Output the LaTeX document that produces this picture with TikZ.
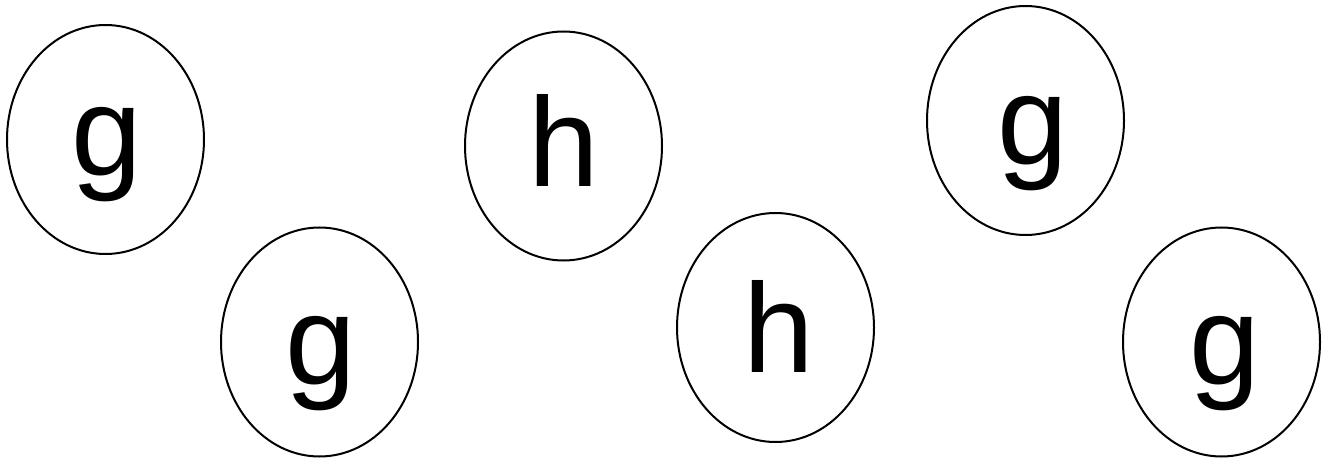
\documentclass[tikz,border=0pt]{standalone}
\usepackage{fontspec}
\setmainfont{Liberation Sans}
\usetikzlibrary{shapes.geometric}
\begin{document}
\begin{tikzpicture}[x=1pt,y=1pt,
  oval/.style={draw, line width=2pt, ellipse, inner sep=0pt,
    minimum width=197pt, minimum height=229pt},
  letter/.style={anchor=base, inner sep=0pt, font=\fontsize{127}{127}\selectfont}]
\useasboundingbox (0,0) rectangle (1327,461);
\node[oval] (e1) at (105.5,321.5) {};
\node[oval] (e2) at (319.5,119) {};
\node[oval] (e3) at (563.5,315) {};
\node[oval] (e4) at (775.5,133.5) {};
\node[oval] (e5) at (1025.5,340.5) {};
\node[oval] (e6) at (1221.5,119) {};
\node[letter] (t1) at (107,285.7) {g};
\node[letter] (t2) at (320.5,77) {g};
\node[letter] (t3) at (564,274) {h};
\node[letter] (t4) at (779,89) {h};
\node[letter] (t5) at (1033,296) {g};
\node[letter] (t6) at (1224.5,77) {g};
\end{tikzpicture}
\end{document}
